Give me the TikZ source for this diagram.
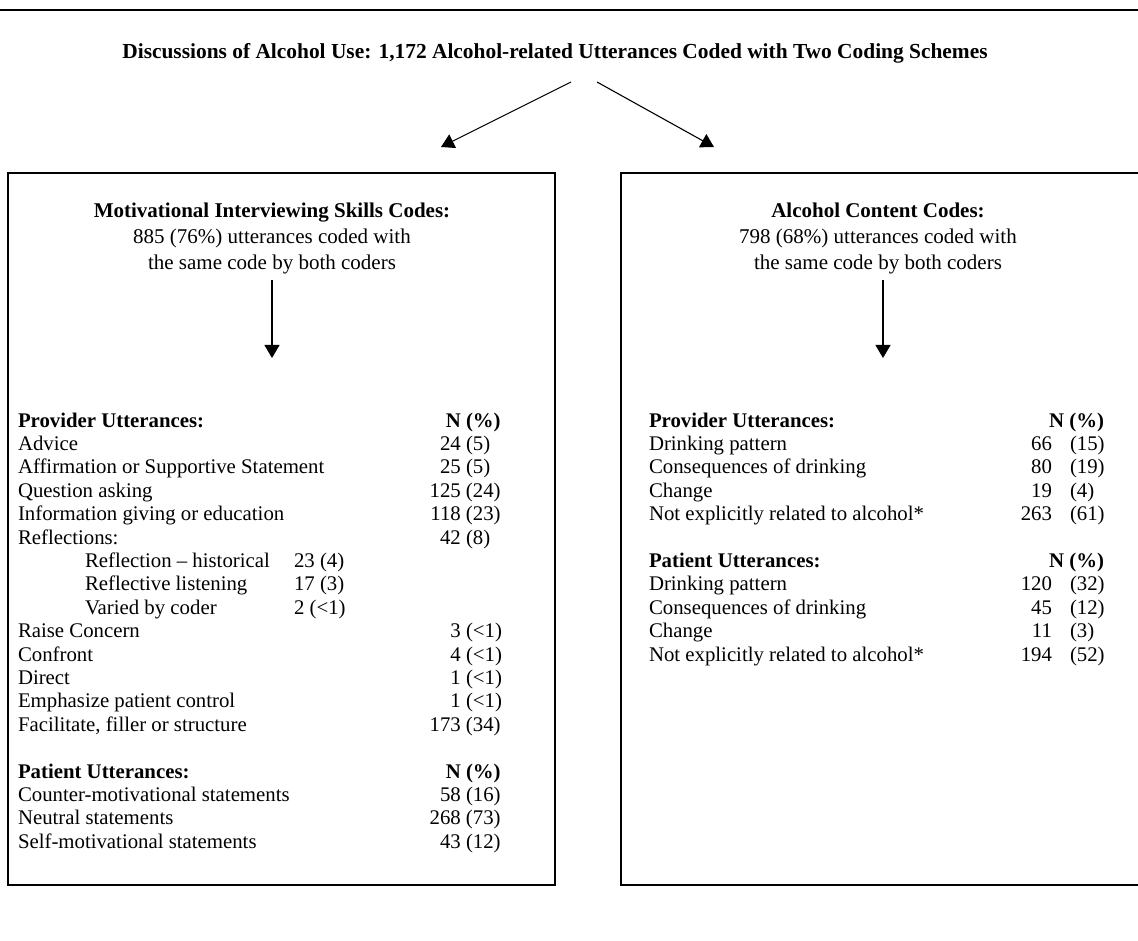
\documentclass[tikz,border=0pt]{standalone}
\usepackage{fontspec}
\setmainfont{Liberation Serif}
\usetikzlibrary{arrows.meta}
\begin{document}
\begin{tikzpicture}[x=1pt,y=-1pt,
  every node/.style={inner sep=0pt,outer sep=0pt,font=\fontsize{20.8}{24}\selectfont},
  item/.style={anchor=base west},
  val/.style={anchor=base west},
  hdr/.style={anchor=base west,font=\fontsize{20.8}{24}\selectfont\bfseries},
  boxline/.style={line width=1.1pt},
  arr/.style={line width=1.1pt,-{Triangle[width=15pt,length=13pt]}},
]
\useasboundingbox (0,0) rectangle (1138,941);
% top rule
\draw[line width=1.6pt] (0,10) -- (1138,10);
% title
\node[font=\fontsize{21.4}{24}\selectfont\bfseries,anchor=base] (title) at (555,59)
  {Discussions of Alcohol Use: 1,172 Alcohol-related Utterances Coded with Two Coding Schemes};
\coordinate (sL) at (571,82);
\coordinate (eL) at (441,147);
\coordinate (sR) at (597,82);
\coordinate (eR) at (714,147);
\draw[arr] (sL) -- (eL);
\draw[arr] (sR) -- (eR);
% boxes
\draw[boxline] (8,173) rectangle (555,885);
\draw[boxline] (1138,173) -- (621,173) -- (621,885) -- (1138,885);
% left header
\node[align=center,font=\fontsize{21}{26}\selectfont] (hL) at (272,238)
  {\textbf{Motivational Interviewing Skills Codes:}\\885 (76\%) utterances coded with\\the same code by both coders};
\coordinate (aL1) at (272,280);
\coordinate (aL2) at (272,358);
\draw[arr] (aL1) -- (aL2);
% right header
\node[align=center,font=\fontsize{21}{26}\selectfont] (hR) at (878,238)
  {\textbf{Alcohol Content Codes:}\\798 (68\%) utterances coded with\\the same code by both coders};
\coordinate (aR1) at (883,280);
\coordinate (aR2) at (883,358);
\draw[arr] (aR1) -- (aR2);
% left table
\node[hdr] (Lh1) at (18,427) {Provider Utterances:};
\node[val] (Lh1n) at (466,427) {\bfseries\llap{N }(\%)};
\foreach \k/\t/\n/\p in {
  1/Advice/24/5,
  2/{Affirmation or Supportive Statement}/25/5,
  3/{Question asking}/125/24,
  4/{Information giving or education}/118/23,
  5/{Reflections:}/42/8,
  9/{Raise Concern}/3/<1,
  10/{Confront}/4/<1,
  11/{Direct}/1/<1,
  12/{Emphasize patient control}/1/<1,
  13/{Facilitate, filler or structure}/173/34}{
  \node[item] (L\k) at (18,{427+23.4*\k}) {\t};
  \node[val] (Ln\k) at (466,{427+23.4*\k}) {\llap{\n\ }(\p)};
}
\foreach \k/\t/\n/\p in {
  6/{Reflection -- historical}/23/4,
  7/{Reflective listening}/17/3,
  8/{Varied by coder}/2/<1}{
  \node[item] (L\k) at (85,{427+23.4*\k}) {\t};
  \node[val] (Ln\k) at (294,{427+23.4*\k}) {\n\ (\p)};
}
\node[hdr] (Lh2) at (18,{427+23.4*15}) {Patient Utterances:};
\node[val] (Lh2n) at (466,{427+23.4*15}) {\bfseries\llap{N }(\%)};
\foreach \k/\t/\n/\p in {
  16/{Counter-motivational statements}/58/16,
  17/{Neutral statements}/268/73,
  18/{Self-motivational statements}/43/12}{
  \node[item] (L\k) at (18,{427+23.4*\k}) {\t};
  \node[val] (Ln\k) at (466,{427+23.4*\k}) {\llap{\n\ }(\p)};
}
% right table
\node[hdr] (Rh1) at (649,427) {Provider Utterances:};
\node[anchor=base east,font=\fontsize{20.8}{24}\selectfont\bfseries] (Rh1n) at (1104,427) {N (\%)};
\node[hdr] (Rh2) at (649,{427+23.4*6}) {Patient Utterances:};
\node[anchor=base east,font=\fontsize{20.8}{24}\selectfont\bfseries] (Rh2n) at (1104,{427+23.4*6}) {N (\%)};
\foreach \k/\t/\n/\p in {
  1/{Drinking pattern}/66/15,
  2/{Consequences of drinking}/80/19,
  3/{Change}/19/4,
  4/{Not explicitly related to alcohol*}/263/61,
  7/{Drinking pattern}/120/32,
  8/{Consequences of drinking}/45/12,
  9/{Change}/11/3,
  10/{Not explicitly related to alcohol*}/194/52}{
  \node[item] (R\k) at (649,{427+23.4*\k}) {\t};
  \node[val] (Rn\k) at (1070,{427+23.4*\k}) {\llap{\n\hskip18pt}(\p)};
}
\end{tikzpicture}
\end{document}
